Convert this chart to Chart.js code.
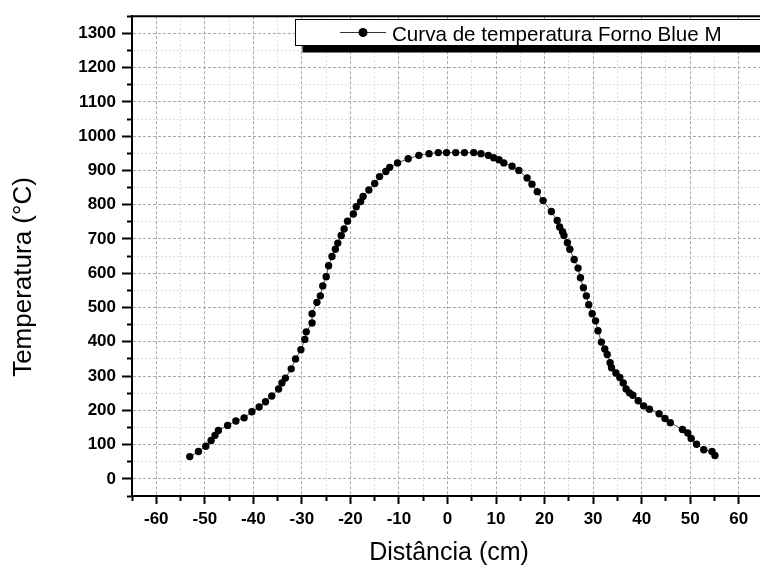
<!DOCTYPE html>
<html>
<head>
<meta charset="utf-8">
<script src="https://cdn.jsdelivr.net/npm/chart.js@4.4.1/dist/chart.umd.min.js"></script>
<style>
  html, body { margin: 0; padding: 0; background: #fff; overflow: hidden; width: 760px; height: 568px; }
  canvas { display: block; }
</style>
</head>
<body>
<canvas id="tempChart" width="780" height="568"></canvas>
<script>
// dados
const distancia = [
  -53.1, -51.3, -49.8, -48.7, -47.9, -47.2, -45.3, -43.6, -41.9, -40.3,
  -38.8, -37.5, -36.2, -34.8, -34.1, -33.4, -32.2, -31.3, -30.2, -29.4,
  -29.1, -27.9, -27.9, -26.9, -26.2, -25.7, -25.0, -24.5, -23.8, -23.1,
  -22.6, -21.9, -21.3, -20.6, -19.4, -18.8, -17.9, -17.4, -16.2, -15.0,
  -14.0, -12.7, -11.9, -10.3, -8.1, -5.9, -3.8, -1.9, -0.2,
  1.7, 3.5, 5.4, 6.9, 8.4, 9.5, 10.6, 11.6, 13.3, 14.7,
  16.4, 17.4, 18.5, 19.7, 21.4, 22.6, 23.1, 23.7, 24.0, 24.7,
  25.2, 26.1, 26.9, 27.4, 28.0, 28.6, 29.1, 29.8, 30.5, 31.0,
  31.7, 32.4, 32.9, 33.5, 33.8, 34.7, 35.5, 36.2, 36.8, 37.5,
  38.2, 39.3, 40.4, 41.6, 43.6, 44.8, 45.9, 48.4, 49.5, 50.2,
  51.3, 52.8, 54.5, 55.1
];
const temperatura = [
  65, 80, 95, 112, 127, 141, 156, 169, 178, 196,
  210, 225, 242, 262, 280, 294, 321, 350, 377, 407,
  429, 455, 482, 515, 534, 563, 590, 622, 649, 670,
  688, 710, 729, 752, 773, 794, 809, 824, 843, 862,
  882, 897, 909, 922, 934, 944, 949, 952, 952,
  952, 952, 952, 949, 944, 937, 931, 922, 912, 900,
  878, 860, 838, 812, 780, 754, 735, 721, 710, 689,
  670, 640, 615, 587, 558, 534, 508, 482, 461, 432,
  399, 379, 363, 339, 324, 309, 296, 280, 262, 251,
  244, 228, 213, 203, 190, 176, 164, 144, 134, 118,
  101, 85, 80, 68
];
const xTicks = [-60, -50, -40, -30, -20, -10, 0, 10, 20, 30, 40, 50, 60];
const yTicks = [0, 100, 200, 300, 400, 500, 600, 700, 800, 900, 1000, 1100, 1200, 1300];
const serieNome = 'Curva de temperatura Forno Blue M';
const tituloX = 'Distância (cm)';
const tituloY = 'Temperatura (°C)';

const fonte = '"Liberation Sans", Arial, sans-serif';

const pontos = distancia.map((d, i) => ({ x: d, y: temperatura[i] }));

// grade: linhas principais tracejadas, secundárias pontilhadas
function gradeCor(step) {
  return ctx => (ctx.tick && ctx.tick.value % step === 0) ? '#a9a9a9' : '#dcdcdc';
}
function gradeDash(step) {
  return ctx => {
    if (!ctx.tick) return [];
    return ctx.tick.value % step === 0 ? [3, 2] : [2, 2];
  };
}

const moldura = {
  id: 'moldura',
  afterDraw(chart) {
    const { ctx, chartArea: a } = chart;
    ctx.save();
    // borda superior e direita
    ctx.strokeStyle = '#000';
    ctx.lineWidth = 2;
    ctx.beginPath();
    ctx.moveTo(a.left - 1, a.top);
    ctx.lineTo(a.right, a.top);
    ctx.lineTo(a.right, a.bottom);
    ctx.stroke();

    // legenda com sombra
    const bx = 295.5, by = 19.5, bw = 480, bh = 26;
    ctx.fillStyle = '#000';
    ctx.fillRect(bx + 7, by + 7, bw, bh);
    ctx.fillStyle = '#fff';
    ctx.fillRect(bx, by, bw, bh);
    ctx.lineWidth = 1;
    ctx.strokeRect(bx, by, bw, bh);

    ctx.strokeStyle = '#333';
    ctx.beginPath();
    ctx.moveTo(340, 32.5);
    ctx.lineTo(386, 32.5);
    ctx.stroke();
    ctx.fillStyle = '#000';
    ctx.beginPath();
    ctx.arc(363, 32.5, 4.5, 0, Math.PI * 2);
    ctx.fill();

    ctx.font = '20.6px ' + fonte;
    ctx.textAlign = 'left';
    ctx.textBaseline = 'alphabetic';
    ctx.fillText(chart.data.datasets[0].label, 392, 40.5);

    // títulos dos eixos
    ctx.font = '25px ' + fonte;
    ctx.textAlign = 'center';
    ctx.textBaseline = 'middle';
    ctx.fillText(tituloX, 449, 553);

    ctx.translate(24, 277);
    ctx.rotate(-Math.PI / 2);
    ctx.font = '26px ' + fonte;
    ctx.fillText(tituloY, 0, 0);
    ctx.restore();
  }
};

new Chart(document.getElementById('tempChart'), {
  type: 'scatter',
  data: {
    datasets: [{
      label: serieNome,
      data: pontos,
      showLine: true,
      borderColor: '#555',
      borderWidth: 1,
      pointRadius: 3.7,
      pointHoverRadius: 3.7,
      pointBackgroundColor: '#000',
      pointBorderColor: '#000',
      pointBorderWidth: 0
    }]
  },
  options: {
    responsive: false,
    animation: false,
    layout: { padding: { left: 0, top: 16, right: 17, bottom: 0 } },
    plugins: {
      legend: { display: false },
      tooltip: { enabled: false }
    },
    scales: {
      x: {
        type: 'linear',
        min: -65,
        max: 65,
        afterFit: s => { s.height = 72; },
        border: { display: true, color: '#000', width: 2, dash: gradeDash(10) },
        grid: {
          color: gradeCor(10),
          lineWidth: 1,
          tickLength: 8,
          tickColor: '#000',
          tickWidth: 2,
          tickBorderDash: ctx => (ctx.tick && ctx.tick.value % 10 === 0) ? [] : [4, 100]
        },
        ticks: {
          stepSize: 5,
          autoSkip: false,
          maxRotation: 0,
          padding: 5,
          color: '#000',
          font: { family: fonte, size: 17, weight: 'bold' },
          callback: v => xTicks.includes(v) ? String(v) : ''
        }
      },
      y: {
        min: -50,
        max: 1350,
        afterFit: s => { s.width = 132; },
        border: { display: true, color: '#000', width: 2, dash: gradeDash(100) },
        grid: {
          color: gradeCor(100),
          lineWidth: 1,
          tickLength: 10,
          tickColor: '#000',
          tickWidth: 2,
          tickBorderDash: ctx => (ctx.tick && ctx.tick.value % 100 === 0) ? [] : [0, 5, 5, 100]
        },
        ticks: {
          stepSize: 50,
          autoSkip: false,
          padding: 6,
          color: '#000',
          font: { family: fonte, size: 17, weight: 'bold' },
          callback: v => yTicks.includes(v) ? String(v) : ''
        }
      }
    }
  },
  plugins: [moldura]
});
</script>
</body>
</html>
